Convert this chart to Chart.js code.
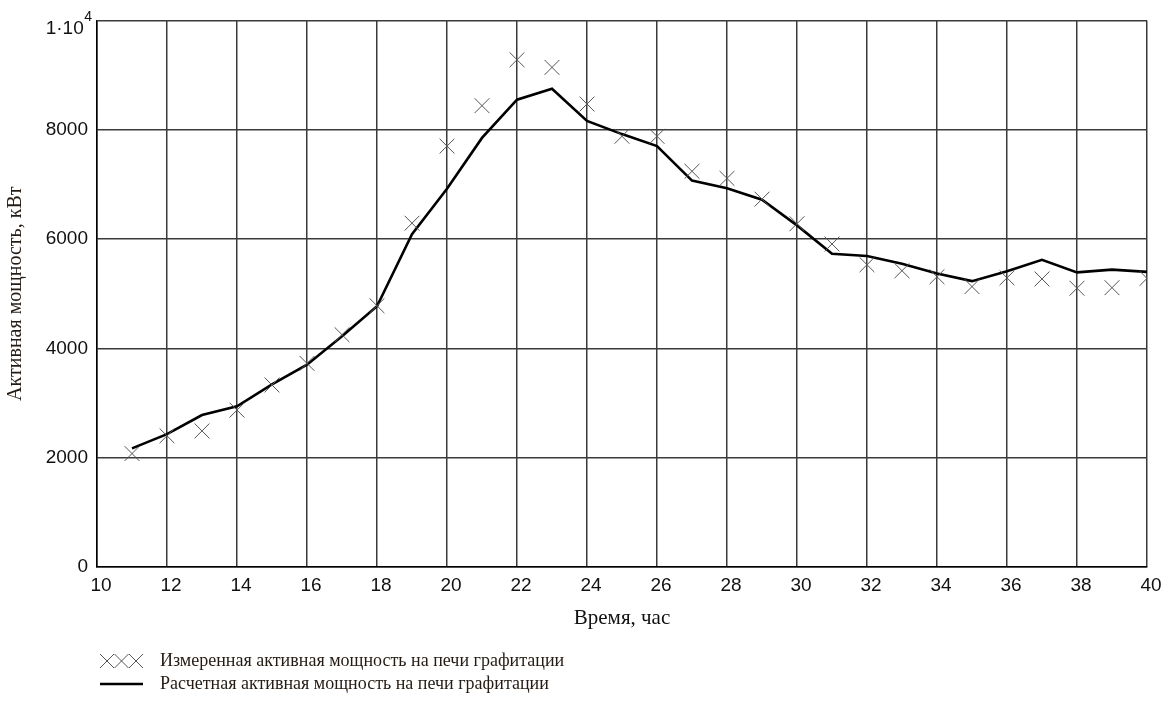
<!DOCTYPE html>
<html>
<head>
<meta charset="utf-8">
<script src="https://cdn.jsdelivr.net/npm/chart.js@4/dist/chart.umd.min.js"></script>
<style>
html,body{margin:0;padding:0;background:#fff;}
canvas{display:block;}
</style>
</head>
<body>
<canvas id="c" width="1167" height="711"></canvas>
<script>
// ---- data ----
const hours = [11,12,13,14,15,16,17,18,19,20,21,22,23,24,25,26,27,28,29,30,31,32,33,34,35,36,37,38,39,40];
const measured = [2075,2400,2490,2870,3330,3725,4250,4780,6290,7700,8440,9280,9140,8470,7880,7880,7240,7110,6730,6280,5910,5530,5420,5310,5130,5290,5270,5100,5110,5280];
const calculated = [2170,2430,2780,2940,3340,3700,4220,4770,6090,6920,7850,8550,8750,8160,7920,7700,7070,6930,6720,6250,5730,5690,5550,5370,5230,5410,5620,5390,5440,5400];
const xTickValues = [10,12,14,16,18,20,22,24,26,28,30,32,34,36,38,40];
const yTickValues = [0,2000,4000,6000,8000,10000];
const yTickLabels = ['0','2000','4000','6000','8000','1·10^4'];
const seriesNames = ['Измеренная активная мощность на печи графитации','Расчетная активная мощность на печи графитации'];
const xTitle = 'Время, час';
const yTitle = 'Активная мощность, кВт';

const toPoints = (xs, ys) => xs.map((x, i) => ({x: x, y: ys[i]}));

const GRID = '#3a3a3a';
const TEXT_DARK = '#241c14';
const TICK_FONT = '"Liberation Sans"';

// y tick labels written as "base^exp" are drawn with a raised exponent
const isPower = (s) => s.indexOf('^') >= 0;

const customPlugin = {
  id: 'customDraw',
  afterDraw(chart) {
    const ctx = chart.ctx;
    ctx.save();
    // power-of-ten tick labels on the y axis
    const ys = chart.scales.y;
    yTickValues.forEach((v, i) => {
      const lab = yTickLabels[i];
      if (!isPower(lab)) return;
      const [base, exp] = lab.split('^');
      const py = ys.getPixelForValue(v);
      ctx.fillStyle = '#111';
      ctx.textBaseline = 'alphabetic';
      ctx.textAlign = 'right';
      ctx.font = '14px ' + TICK_FONT;
      const expW = ctx.measureText(exp).width;
      const right = ys.right - 5;
      ctx.fillText(exp, right, py + 1);
      ctx.font = '19px ' + TICK_FONT;
      ctx.fillText(base, right - expW - 0.5, py + 14);
    });

    // legend
    ctx.strokeStyle = '#555';
    ctx.lineWidth = 1;
    for (let i = 0; i < 3; i++) {
      const cx = 107 + i * 14.5, cy = 661;
      ctx.beginPath();
      ctx.moveTo(cx - 7, cy - 7); ctx.lineTo(cx + 7, cy + 7);
      ctx.moveTo(cx + 7, cy - 7); ctx.lineTo(cx - 7, cy + 7);
      ctx.stroke();
    }
    ctx.strokeStyle = '#000';
    ctx.lineWidth = 2.5;
    ctx.beginPath();
    ctx.moveTo(100, 684); ctx.lineTo(143, 684);
    ctx.stroke();
    ctx.fillStyle = TEXT_DARK;
    ctx.font = '18px "Liberation Serif"';
    ctx.textBaseline = 'middle';
    ctx.textAlign = 'left';
    ctx.fillText(seriesNames[0], 160, 661);
    ctx.fillText(seriesNames[1], 160, 684);
    ctx.restore();
  }
};

new Chart(document.getElementById('c'), {
  type: 'line',
  data: {
    datasets: [
      {
        label: seriesNames[0],
        data: toPoints(hours, measured),
        showLine: false,
        pointStyle: 'crossRot',
        pointRadius: 10.5,
        pointBorderWidth: 1,
        pointBorderColor: '#555',
        pointBackgroundColor: '#555',
        borderColor: '#555',
        clip: 0
      },
      {
        label: seriesNames[1],
        data: toPoints(hours, calculated),
        borderColor: '#000',
        borderWidth: 2.6,
        pointRadius: 0,
        tension: 0,
        fill: false
      }
    ]
  },
  options: {
    responsive: false,
    animation: false,
    devicePixelRatio: 1,
    layout: {padding: {left: 0, right: 20, top: 17, bottom: 0}},
    plugins: {legend: {display: false}, tooltip: {enabled: false}},
    scales: {
      x: {
        type: 'linear',
        min: 10, max: 40,
        afterBuildTicks(scale) { scale.ticks = xTickValues.map(v => ({value: v})); },
        afterFit(scale) { scale.height = 144; },
        ticks: {
          font: {family: TICK_FONT, size: 19},
          color: '#111',
          padding: 7,
          labelOffset: 4,
          maxRotation: 0,
          autoSkip: false
        },
        grid: {color: GRID, lineWidth: 1.5, drawTicks: false},
        border: {color: '#000', width: 1.5},
        title: {
          display: true, text: xTitle,
          font: {family: '"Liberation Serif"', size: 21},
          color: '#111',
          padding: {top: 0, bottom: 80}
        }
      },
      y: {
        type: 'linear',
        min: 0, max: 10000,
        afterBuildTicks(scale) { scale.ticks = yTickValues.map(v => ({value: v})); },
        afterFit(scale) { scale.width = 97; },
        ticks: {
          font: {family: TICK_FONT, size: 19},
          color: '#111',
          padding: 9,
          callback: (v) => {
            const i = yTickValues.indexOf(v);
            if (i < 0) return '';
            return isPower(yTickLabels[i]) ? '' : yTickLabels[i];
          }
        },
        grid: {color: GRID, lineWidth: 1.5, drawTicks: false},
        border: {color: '#000', width: 1.5},
        title: {
          display: true, text: yTitle,
          font: {family: '"Liberation Serif"', size: 20},
          color: TEXT_DARK,
          padding: {top: 4, bottom: 0}
        }
      }
    }
  },
  plugins: [customPlugin]
});
</script>
</body>
</html>
